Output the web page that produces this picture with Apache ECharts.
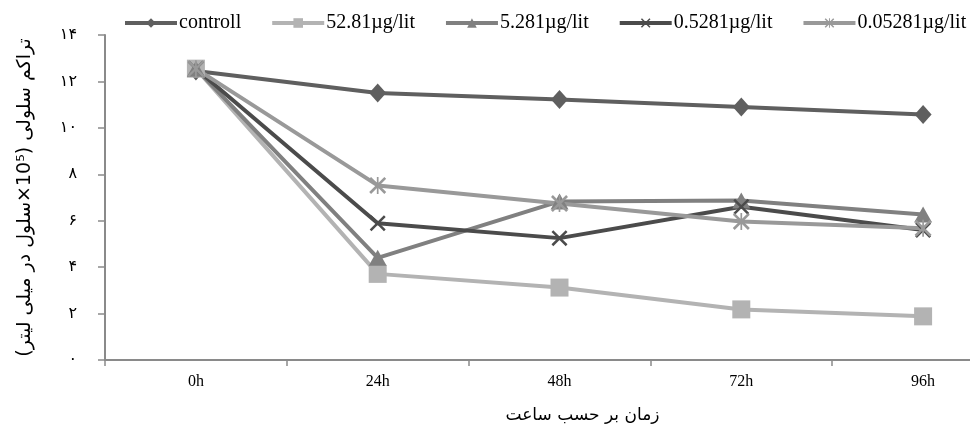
<!DOCTYPE html>
<html><head><meta charset="utf-8">
<script src="https://cdn.jsdelivr.net/npm/echarts@6/dist/echarts.min.js"></script>
<style>html,body{margin:0;padding:0;background:#fff;overflow:hidden;width:970px;height:429px}#c{width:1014px;height:429px}</style>
</head><body><div id="c"></div>
<script>
var categories = ['0h', '24h', '48h', '72h', '96h'];
var seriesNames = ['controll', '52.81µg/lit', '5.281µg/lit', '0.5281µg/lit', '0.05281µg/lit'];
var controll = [12.45, 11.5, 11.22, 10.9, 10.58];
var s52_81 = [12.55, 3.71, 3.12, 2.18, 1.88];
var s5_281 = [12.55, 4.4, 6.83, 6.87, 6.27];
var s0_5281 = [12.55, 5.89, 5.25, 6.6, 5.6];
var s0_05281 = [12.55, 7.52, 6.74, 5.97, 5.68];
var yTickLabels = {0:'۰', 2:'۲', 4:'۴', 6:'۶', 8:'۸', 10:'۱۰', 12:'۱۲', 14:'۱۴'};
var yName = '\u202Bتراکم سلولی (10⁵×سلول در میلی لیتر)\u202C';
var xName = 'زمان بر حسب ساعت';

var colors = ['#5f5f5f', '#b3b3b3', '#808080', '#4b4b4b', '#999999'];
var xPath = 'path://M0,1.1 L1.1,0 L10,8.9 L8.9,10 Z M8.9,0 L10,1.1 L1.1,10 L0,8.9 Z';
var starPath = 'path://M0,1.1 L1.1,0 L10,8.9 L8.9,10 Z M8.9,0 L10,1.1 L1.1,10 L0,8.9 Z M4.5,0 L5.5,0 L5.5,10 L4.5,10 Z';
var symbols = ['diamond', 'rect', 'triangle', xPath, starPath];
var sizes = [[17, 19], 18, [18, 16], 16, 17];
var dataSets = [controll, s52_81, s5_281, s0_5281, s0_05281];

var chart = echarts.init(document.getElementById('c'), null, {renderer: 'canvas'});
var series = dataSets.map(function (d, i) {
  return {
    name: seriesNames[i], type: 'line', data: d,
    symbol: symbols[i], symbolSize: sizes[i], showAllSymbol: true,
    lineStyle: {width: 4, color: colors[i]},
    itemStyle: {color: colors[i]},
    emphasis: {disabled: true}, animation: false
  };
});
chart.setOption({
  animation: false,
  color: colors,
  textStyle: {fontFamily: "'Liberation Serif', serif"},
  legend: {
    top: 8, left: 118, itemWidth: 52, itemHeight: 12, itemGap: 29,
    lineStyle: {width: 4},
    textStyle: {fontFamily: "'Liberation Serif', serif", fontSize: 20, color: '#000', padding: [0,0,0,-3]},
    data: seriesNames
  },
  grid: {left: 105, right: 0, top: 35, bottom: 66, containLabel: false},
  xAxis: {
    type: 'category', data: categories, boundaryGap: true,
    axisLine: {lineStyle: {color: '#8a8a8a', width: 2}},
    axisTick: {show: true, length: 6, lineStyle: {color: '#8a8a8a', width: 1.5}},
    axisLabel: {color: '#000', fontSize: 16, margin: 14, fontFamily: "'Liberation Serif', serif"},
    name: xName, nameLocation: 'middle', nameGap: 47,
    nameTextStyle: {color: '#000', fontSize: 17, fontFamily: "'DejaVu Sans', sans-serif", padding: [0,0,0,46]}
  },
  yAxis: {
    type: 'value', min: 0, max: 14, interval: 2,
    splitLine: {show: false},
    axisLine: {show: true, lineStyle: {color: '#8a8a8a', width: 2}},
    axisTick: {show: true, length: 7, lineStyle: {color: '#8a8a8a', width: 1.5}},
    axisLabel: {color: '#000', fontSize: 16, margin: 28, fontFamily: "'DejaVu Sans', sans-serif",
      formatter: function (v) { return yTickLabels[v] !== undefined ? yTickLabels[v] : ''; }},
    name: yName, nameLocation: 'middle', nameGap: 70, nameRotate: 90,
    nameTextStyle: {color: '#000', fontSize: 19, fontFamily: "'DejaVu Sans', sans-serif"}
  },
  series: series
});
</script></body></html>
